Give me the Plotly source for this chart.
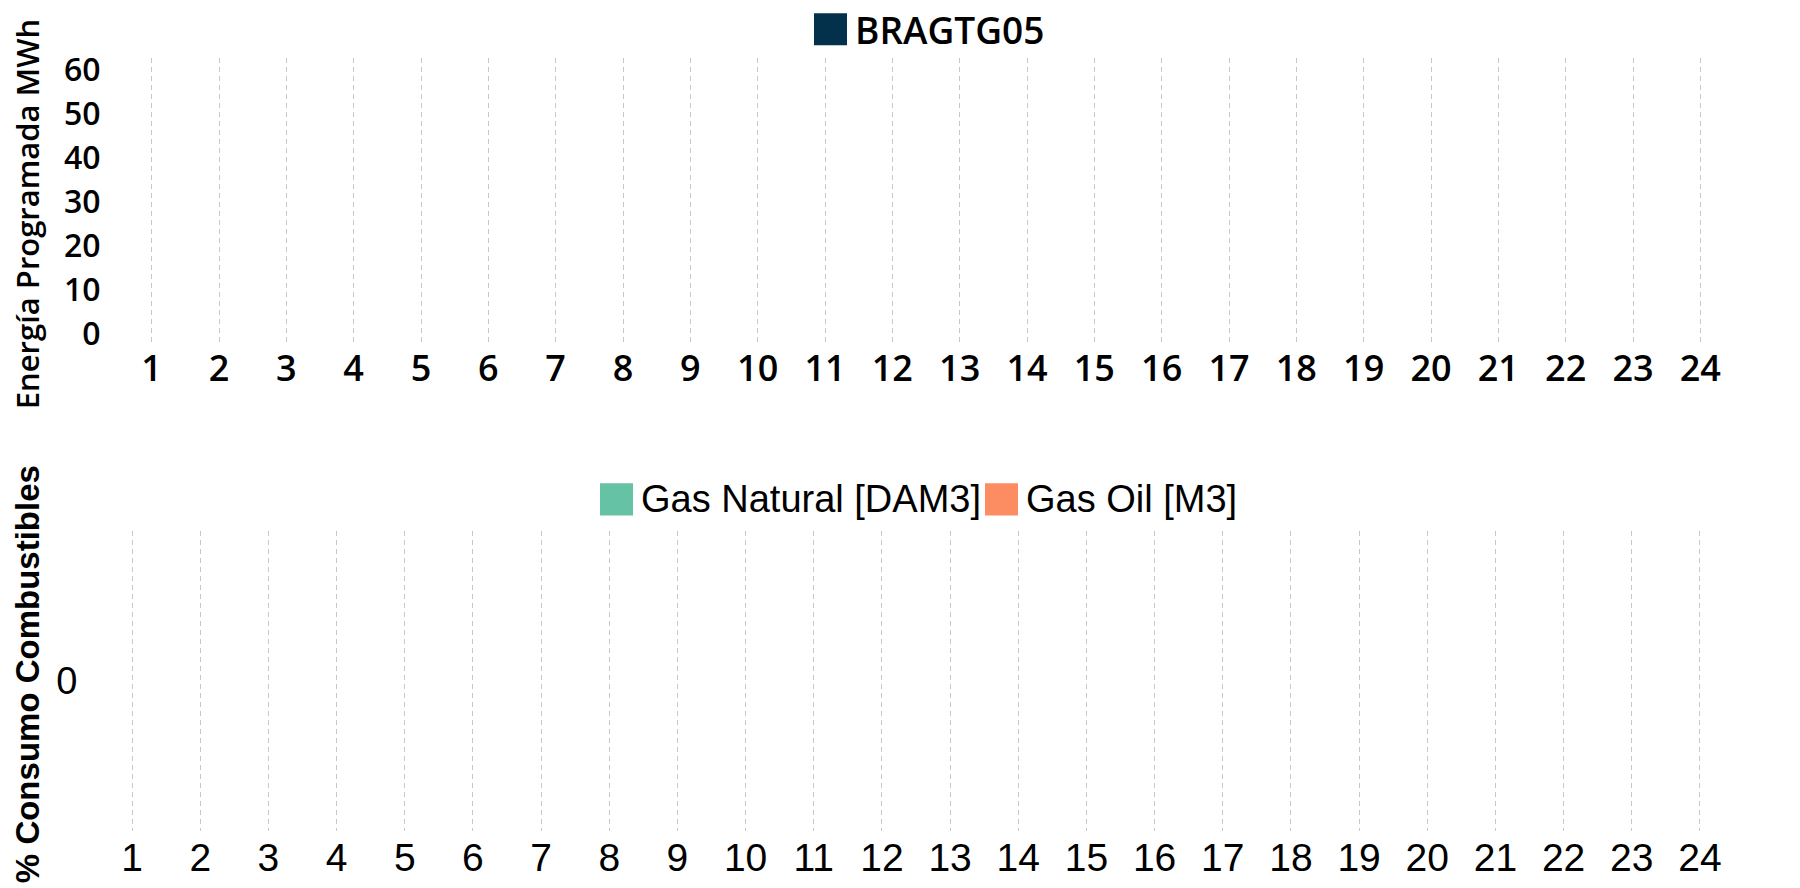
import plotly.graph_objects as go

# ---------------- data ----------------
hours = list(range(1, 25))
hour_labels = [str(h) for h in hours]

energy_name = "BRAGTG05"
energy_mwh = [0] * 24          # chart shows no programmed energy

fuel_names = ["Gas Natural [DAM3]", "Gas Oil [M3]"]
gas_natural = [0] * 24
gas_oil = [0] * 24

energy_ticks = [0, 10, 20, 30, 40, 50, 60]
fuel_ticks = [0]

# ---------------- style ----------------
W, H = 1800, 888
NAVY = "#03304a"
FUEL_COLORS = ["#66c2a5", "#fc8d62"]
GRID = "#c8c8c8"
OPEN = "Open Sans"
ARIAL = "Arial, Liberation Sans, sans-serif"


def px(x):
    return x / W


def py(y):
    return 1 - y / H


fig = go.Figure()

fig.add_trace(go.Bar(x=hours, y=energy_mwh, name=energy_name,
                     marker=dict(color=NAVY, line=dict(width=0)),
                     xaxis="x", yaxis="y", showlegend=False))
for name, vals, col in zip(fuel_names, [gas_natural, gas_oil], FUEL_COLORS):
    fig.add_trace(go.Bar(x=hours, y=vals, name=name,
                         marker=dict(color=col, line=dict(width=0)),
                         xaxis="x2", yaxis="y2", showlegend=False))

common_x = dict(range=[0.5, 24.5], tickmode="array", tickvals=hours,
                ticktext=hour_labels, showgrid=True, gridcolor=GRID,
                gridwidth=1, griddash="5px,4px", zeroline=False,
                showline=False, ticks="")

fig.update_layout(
    width=W, height=H,
    margin=dict(l=0, r=0, t=0, b=0),
    paper_bgcolor="white", plot_bgcolor="white",
    showlegend=False,
    barmode="group",
    xaxis=dict(domain=[px(110), px(1726)], anchor="y",
               tickfont=dict(family=OPEN, size=36, color="#000", weight=600),
               **common_x),
    yaxis=dict(domain=[py(333), py(40)], anchor="x",
               range=[-2.3, 62.7], tickmode="array", tickvals=energy_ticks,
               showgrid=False, zeroline=False, showline=False,
               ticks="outside", ticklen=10, tickcolor="rgba(0,0,0,0)",
               tickfont=dict(family=OPEN, size=32, color="#000", weight=600)),
    xaxis2=dict(domain=[px(90), px(1726)], anchor="y2",
                tickfont=dict(family=ARIAL, size=39, color="#000"),
                **common_x),
    yaxis2=dict(domain=[py(832), py(524)], anchor="x2",
                range=[-1, 1], tickmode="array", tickvals=fuel_ticks,
                showgrid=False, zeroline=False, showline=False,
                ticks="outside", ticklen=12, tickcolor="rgba(0,0,0,0)",
                tickfont=dict(family=ARIAL, size=38, color="#000")),
)

# axis titles
fig.add_annotation(text="Energía Programada MWh", textangle=-90,
                   xref="paper", yref="paper", x=px(19), y=py(200),
                   xanchor="center", yanchor="middle", showarrow=False,
                   font=dict(family=OPEN, size=31, color="#000", weight=600))
fig.add_annotation(text="<b>% Consumo Combustibles</b>", textangle=-90,
                   xref="paper", yref="paper", x=px(19), y=py(671),
                   xanchor="center", yanchor="middle", showarrow=False,
                   font=dict(family=ARIAL, size=33, color="#000"))

# legends (large square swatches)
legend_items = [
    (energy_name, NAVY, 806, 10.5, OPEN, 37, 600),
    (fuel_names[0], FUEL_COLORS[0], 592, 492, ARIAL, 38, 400),
    (fuel_names[1], FUEL_COLORS[1], 977, 492, ARIAL, 38, 400),
]
SW = 33
for label, col, x0, yc, fam, fs, wt in legend_items:
    fig.add_shape(type="rect", xref="paper", yref="paper",
                  x0=px(x0), x1=px(x0 + SW), y0=py(yc + SW / 2), y1=py(yc - SW / 2),
                  fillcolor=col, line=dict(width=0))
    fig.add_annotation(text=label, xref="paper", yref="paper",
                       x=px(x0 + SW + 6), y=py(yc), xanchor="left", yanchor="middle",
                       showarrow=False,
                       font=dict(family=fam, size=fs, color="#000", weight=wt))

fig.write_html("out.html")
